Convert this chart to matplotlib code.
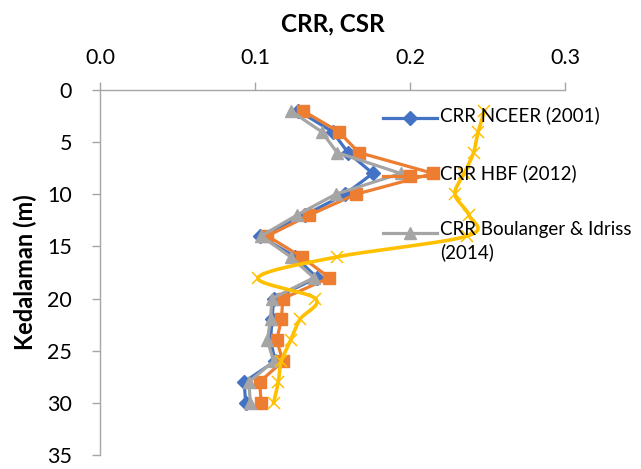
import numpy as np
import matplotlib.pyplot as plt
from matplotlib.lines import Line2D

plt.rcParams['font.family'] = ['Lato', 'DejaVu Sans']

# Depth (m) and ratios
depth = [2, 4, 6, 8, 10, 12, 14, 16, 18, 20, 22, 24, 26, 28, 30]
crr_nceer = [0.128, 0.150, 0.160, 0.176, 0.158, 0.132, 0.103, 0.126,
             0.140, 0.112, 0.111, 0.110, 0.113, 0.093, 0.094]
crr_hbf = [0.131, 0.154, 0.167, 0.215, 0.165, 0.135, 0.108, 0.130,
           0.148, 0.118, 0.117, 0.114, 0.118, 0.103, 0.104]
crr_bi = [0.123, 0.143, 0.153, 0.194, 0.152, 0.127, 0.104, 0.123,
          0.138, 0.111, 0.110, 0.108, 0.112, 0.096, 0.097]
csr = [0.248, 0.244, 0.241, 0.235, 0.229, 0.238, 0.237, 0.153,
       0.102, 0.139, 0.129, 0.123, 0.117, 0.115, 0.112]

labels = ['CRR NCEER (2001)', 'CRR HBF (2012)',
          'CRR Boulanger & Idriss\n(2014)']
xticks = [0.0, 0.1, 0.2, 0.3]
yticks = [0, 5, 10, 15, 20, 25, 30, 35]

BLUE, ORANGE, GRAY, GOLD = '#4472C4', '#ED7D31', '#A5A5A5', '#FFC000'
AXC = '#A6A6A6'


def smooth(ax, xs, ys, n=30):
    # Excel-style smoothed line, computed in screen space
    pts = ax.transData.transform(np.column_stack([xs, ys]))
    p = np.vstack([pts[0], pts, pts[-1]])
    out = []
    for i in range(1, len(p) - 2):
        p0, p1, p2, p3 = p[i - 1], p[i], p[i + 1], p[i + 2]
        c1 = p1 + (p2 - p0) / 6
        c2 = p2 - (p3 - p1) / 6
        t = np.linspace(0, 1, n)[:, None]
        seg = ((1 - t) ** 3 * p1 + 3 * (1 - t) ** 2 * t * c1
               + 3 * (1 - t) * t ** 2 * c2 + t ** 3 * p2)
        out.append(seg)
    out = ax.transData.inverted().transform(np.vstack(out))
    return out[:, 0], out[:, 1]


fig = plt.figure(figsize=(6.41, 4.69), dpi=100)
ax = fig.add_axes([100 / 641, 1 - 455 / 469, 465 / 641, 365 / 469])
ax.set_xlim(0, 0.3)
ax.set_ylim(35, 0)

ax.plot(crr_nceer, depth, color=BLUE, lw=2.3, marker='D', ms=7, zorder=3)
ax.plot(crr_hbf, depth, color=ORANGE, lw=2.3, marker='s', ms=8.5, zorder=4)
ax.plot(crr_bi, depth, color=GRAY, lw=2.3, marker='^', ms=9, zorder=5)
sx, sy = smooth(ax, csr, depth)
ax.plot(sx, sy, color=GOLD, lw=2.6, zorder=6)
ax.plot(csr, depth, ls='none', marker='x', ms=9, mew=1.1, color=GOLD, zorder=6)

# axes styling
ax.xaxis.tick_top()
ax.xaxis.set_label_position('top')
ax.set_xticks(xticks)
ax.set_xticklabels([f'{v:.1f}' for v in xticks])
ax.set_yticks(yticks)
for s in ['right', 'bottom']:
    ax.spines[s].set_visible(False)
for s in ['top', 'left']:
    ax.spines[s].set_color(AXC)
    ax.spines[s].set_linewidth(1.0)
ax.tick_params(axis='both', colors=AXC, labelcolor='#000000', labelsize=15.5,
               length=6, width=1.0)
ax.tick_params(axis='x', pad=10)
ax.tick_params(axis='y', pad=14)
ax.set_xlabel('CRR, CSR', fontsize=17.5, fontweight='bold', labelpad=12)
ax.set_ylabel('Kedalaman (m)', fontsize=17, fontweight='bold', labelpad=7)

# legend drawn on the right, overlapping the plot like the original
leg_y = [118, 176, 233]
styles = [(BLUE, 'D', 7), (ORANGE, 's', 8.5), (GRAY, '^', 9)]
for (c, m, ms), lab, yp in zip(styles, labels, leg_y):
    yf = 1 - yp / 469
    fig.add_artist(Line2D([383 / 641, 437 / 641], [yf, yf], color=c, lw=2.3,
                          transform=fig.transFigure, zorder=7))
    fig.add_artist(Line2D([410 / 641], [yf], color=c, marker=m, ms=ms,
                          transform=fig.transFigure, zorder=7))
    fig.text(440 / 641, yf + 12 / 469, lab, fontsize=13.5, va='top',
             ha='left', zorder=8, linespacing=1.35,
             transform=fig.transFigure)

fig.savefig('out.png', dpi=100)
